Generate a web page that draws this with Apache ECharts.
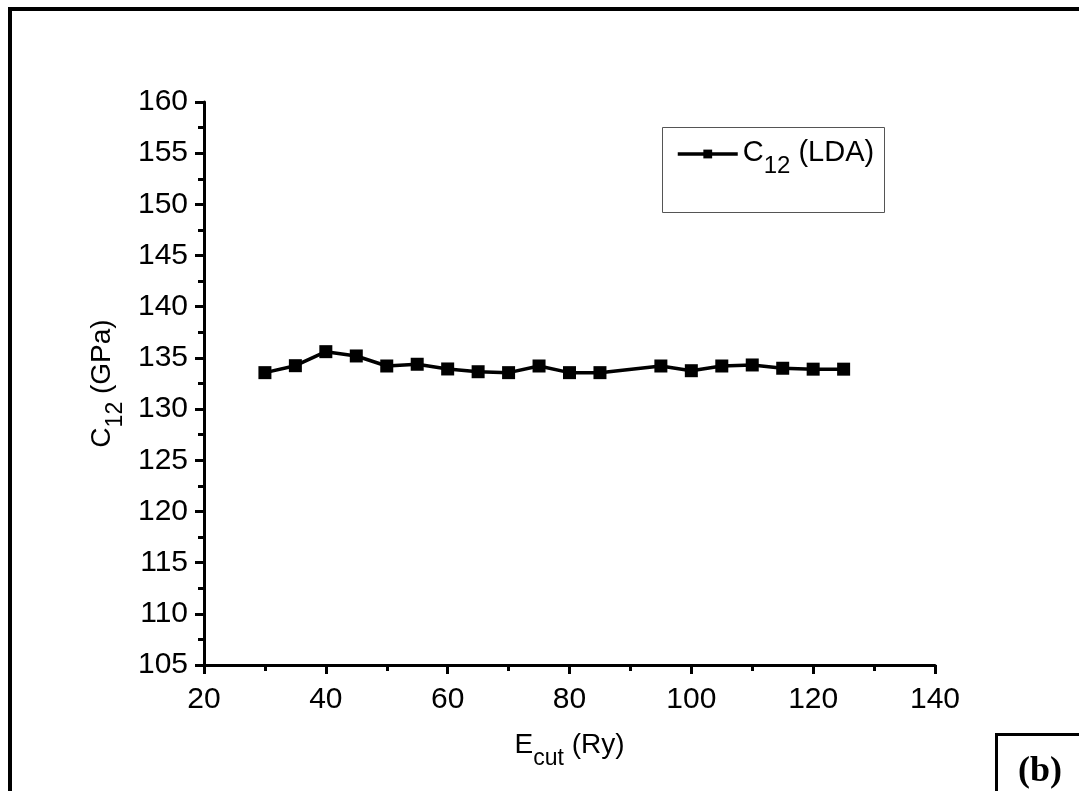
<!DOCTYPE html>
<html>
<head>
<meta charset="utf-8">
<title>C12 (LDA) vs Ecut</title>
<script src="https://cdn.jsdelivr.net/npm/echarts@6/dist/echarts.min.js"></script>
<style>
  html, body { margin: 0; padding: 0; background: #fff; }
  #chart { width: 1079px; height: 791px; }
</style>
</head>
<body>
<div id="chart"></div>
<script>
// Cut-off energy (Ry) and the elastic constant C12 (GPa) computed with LDA
const ecut = [30, 35, 40, 45, 50, 55, 60, 65, 70, 75, 80, 85, 95, 100, 105, 110, 115, 120, 125];
const c12 = [133.56, 134.24, 135.61, 135.19, 134.21, 134.38, 133.92, 133.65, 133.56, 134.21, 133.56, 133.56, 134.21, 133.75, 134.21, 134.31, 133.99, 133.90, 133.90];

const seriesName = 'C12 (LDA)';
const xName = '{b|E}{s|cut}{b| (Ry)}';
const yName = '{b|C}{s|12}{b| (GPa)}';
const legendText = '{b|C}{s|12}{b| (LDA)}';
const panelTag = '(b)';

const FONT = 'Liberation Sans, Arial, sans-serif';
function richSub(big, small, drop) {
  return {
    b: { fontFamily: FONT, fontSize: big, lineHeight: big + 3, color: '#000', verticalAlign: 'top' },
    s: { fontFamily: FONT, fontSize: small, lineHeight: small, color: '#000', padding: [drop, 0, 0, 0], verticalAlign: 'top' }
  };
}

const chart = echarts.init(document.getElementById('chart'), null, { renderer: 'canvas' });

const axisCommon = {
  type: 'value',
  axisLine: { show: true, lineStyle: { color: '#000', width: 3 } },
  axisTick: { show: true, inside: false, length: 9, lineStyle: { color: '#000', width: 3 } },
  minorTick: { show: true, splitNumber: 2, length: 6, lineStyle: { color: '#000', width: 3 } },
  splitLine: { show: false },
  minorSplitLine: { show: false },
  axisLabel: { color: '#000', fontFamily: FONT, fontSize: 30 }
};

chart.setOption({
  backgroundColor: '#fff',
  animation: false,
  grid: { left: 204, right: 144, top: 102, bottom: 126 },
  xAxis: Object.assign({}, axisCommon, {
    min: 20, max: 140, interval: 20,
    axisLabel: Object.assign({}, axisCommon.axisLabel, { margin: 20 }),
    name: xName,
    nameLocation: 'middle',
    nameGap: 66,
    nameTextStyle: { rich: richSub(28, 23, 16) }
  }),
  yAxis: Object.assign({}, axisCommon, {
    min: 105, max: 160, interval: 5,
    axisLabel: Object.assign({}, axisCommon.axisLabel, { margin: 16 }),
    name: yName,
    nameLocation: 'middle',
    nameRotate: 90,
    nameGap: 82,
    nameTextStyle: { rich: richSub(28, 23, 16) }
  }),
  legend: {
    left: 671, top: 133,
    itemWidth: 60, itemHeight: 11,
    itemGap: 0,
    lineStyle: { width: 3.5, color: '#000' },
    data: [{ name: seriesName }],
    formatter: () => legendText,
    textStyle: { rich: richSub(29, 24, 16) }
  },
  series: [{
    name: seriesName,
    type: 'line',
    data: ecut.map((x, i) => [x, c12[i]]),
    symbol: 'rect',
    symbolSize: 13,
    lineStyle: { color: '#000', width: 3.5 },
    itemStyle: { color: '#000' }
  }],
  graphic: [
    // outer frame
    { type: 'rect', z: 10, silent: true, shape: { x: 10, y: 9, width: 1200, height: 900 },
      style: { fill: null, stroke: '#000', lineWidth: 4 } },
    // legend box
    { type: 'rect', z: 10, silent: true, shape: { x: 662.5, y: 127.5, width: 222, height: 85 },
      style: { fill: null, stroke: '#555', lineWidth: 1 } },
    // panel tag box
    { type: 'rect', z: 10, silent: true, shape: { x: 996.5, y: 734.5, width: 200, height: 100 },
      style: { fill: null, stroke: '#000', lineWidth: 3 } },
    { type: 'text', z: 10, silent: true, x: 1040, y: 772,
      style: { text: panelTag, fontFamily: 'Liberation Serif, Times New Roman, serif', fontWeight: 'bold',
               fontSize: 36, fill: '#000', align: 'center', verticalAlign: 'middle' } }
  ]
});
</script>
</body>
</html>
